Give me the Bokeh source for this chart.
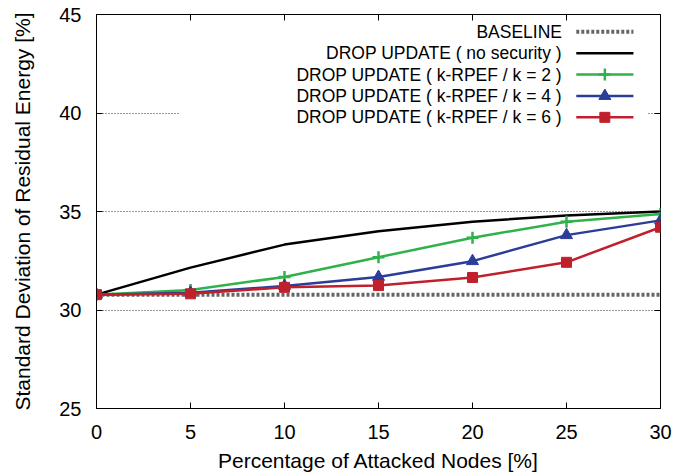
from bokeh.plotting import figure
from bokeh.models import (ColumnDataSource, Range1d, FixedTicker, LinearAxis,
                          Label, BoxAnnotation)
from bokeh.embed import file_html
from bokeh.resources import INLINE

# ---------------- data ----------------
attacked_pct = [0, 5, 10, 15, 20, 25, 30]
baseline = [30.78, 30.78, 30.78, 30.78, 30.78, 30.78, 30.78]
no_security = [30.78, 32.15, 33.32, 34.00, 34.48, 34.80, 35.00]
k2 = [30.78, 31.02, 31.68, 32.68, 33.67, 34.48, 34.87]
k4 = [30.78, 30.88, 31.22, 31.68, 32.48, 33.80, 34.55]
k6 = [30.78, 30.82, 31.15, 31.24, 31.65, 32.42, 34.20]

x_ticks = [0, 5, 10, 15, 20, 25, 30]
y_ticks = [25, 30, 35, 40, 45]
grid_ticks = [30, 35, 40]

series_labels = ["BASELINE",
                 "DROP UPDATE ( no security )",
                 "DROP UPDATE ( k-RPEF / k = 2 )",
                 "DROP UPDATE ( k-RPEF / k = 4 )",
                 "DROP UPDATE ( k-RPEF / k = 6 )"]

FONT = "Liberation Sans"
GREEN = "#2fb24a"
BLUE = "#2b3d98"
RED = "#c0202c"
GRAY = "#666666"

src = ColumnDataSource(dict(x=attacked_pct, base=baseline, nosec=no_security,
                            k2=k2, k4=k4, k6=k6))

p = figure(width=672, height=474, output_backend="svg", toolbar_location=None,
           x_range=Range1d(0, 30), y_range=Range1d(25, 45),
           min_border_left=96, min_border_right=12, min_border_top=14,
           min_border_bottom=65)
p.background_fill_color = "white"
p.border_fill_color = "white"
p.outline_line_color = "black"
p.outline_line_width = 1

# axes
for ax, ticks in ((p.xaxis[0], x_ticks), (p.yaxis[0], y_ticks)):
    ax.ticker = FixedTicker(ticks=ticks)
    ax.major_tick_in = 6
    ax.major_tick_out = 0
    ax.minor_tick_line_color = None
    ax.axis_line_color = "black"
    ax.major_tick_line_color = "black"
    ax.major_label_text_font = FONT
    ax.major_label_text_font_size = "20px"
    ax.major_label_text_color = "black"
    ax.axis_label_text_font = FONT
    ax.axis_label_text_font_size = "21px"
    ax.axis_label_text_font_style = "normal"
    ax.axis_label_text_color = "black"

p.xaxis.axis_label = "Percentage of Attacked Nodes [%]"
p.yaxis.axis_label = "Standard Deviation of Residual Energy [%]"
p.xaxis.major_label_standoff = 16
p.xaxis.axis_label_standoff = 7
p.yaxis.major_label_standoff = 15
p.yaxis.axis_label_standoff = 22

# mirrored ticks on top and right (no labels)
top_ax = LinearAxis(ticker=FixedTicker(ticks=x_ticks), major_tick_in=6, major_tick_out=0,
                    minor_tick_line_color=None, major_label_text_font_size="1px",
                    major_label_text_color=None,
                    major_label_overrides={t: "" for t in x_ticks},
                    major_label_standoff=0, axis_line_color=None)
right_ax = LinearAxis(ticker=FixedTicker(ticks=y_ticks), major_tick_in=6, major_tick_out=0,
                      minor_tick_line_color=None, major_label_text_font_size="1px",
                      major_label_text_color=None,
                      major_label_overrides={t: "" for t in y_ticks},
                      major_label_standoff=0, axis_line_color=None)
p.add_layout(top_ax, "above")
p.add_layout(right_ax, "right")

# grid
p.xgrid.grid_line_color = None
p.ygrid.ticker = FixedTicker(ticks=grid_ticks)
p.ygrid.grid_line_color = "#333333"
p.ygrid.grid_line_dash = "1 2"
p.ygrid.grid_line_width = 1

# legend background (opaque key box)
key_box = BoxAnnotation(left=4.42, right=29.31, bottom=39.28, top=44.95,
                        fill_color="white", fill_alpha=1.0, line_color=None,
                        level="underlay")
p.add_layout(key_box)

# series
p.line("x", "base", source=src, line_color=GRAY, line_width=4, line_dash="3 2")
p.line("x", "nosec", source=src, line_color="black", line_width=2.5)
p.line("x", "k2", source=src, line_color=GREEN, line_width=2.5)
p.scatter("x", "k2", source=src, marker="cross", size=12, line_color=GREEN, line_width=2.5)
p.line("x", "k4", source=src, line_color=BLUE, line_width=2.5)
p.scatter("x", "k4", source=src, marker="triangle", size=12, fill_color=BLUE, line_color=BLUE)
p.line("x", "k6", source=src, line_color=RED, line_width=2.5)
p.scatter("x", "k6", source=src, marker="square", size=10, fill_color=RED, line_color=RED)

# custom key (text right-aligned, sample on the right)
key_text_x = 24.76
key_x0, key_x1 = 25.52, 28.56
key_mid = (key_x0 + key_x1) / 2
key_y0, key_dy = 44.12, 1.085
styles = [
    dict(color=GRAY, width=4, dash="3 2", marker=None),
    dict(color="black", width=2.5, dash="solid", marker=None),
    dict(color=GREEN, width=2.5, dash="solid", marker="cross"),
    dict(color=BLUE, width=2.5, dash="solid", marker="triangle"),
    dict(color=RED, width=2.5, dash="solid", marker="square"),
]
marker_size = {"cross": 12, "triangle": 12, "square": 10}
for i, (lab, st) in enumerate(zip(series_labels, styles)):
    yy = key_y0 - i * key_dy
    p.add_layout(Label(x=key_text_x, y=yy, text=lab, text_align="right",
                       text_baseline="middle", text_font=FONT,
                       text_font_size="17.5px", text_color="black"))
    p.line([key_x0, key_x1], [yy, yy], line_color=st["color"], line_width=st["width"],
           line_dash=st["dash"])
    if st["marker"]:
        p.scatter([key_mid], [yy], marker=st["marker"], size=marker_size[st["marker"]],
                  line_color=st["color"], fill_color=st["color"],
                  line_width=2.5 if st["marker"] == "cross" else 1)

open("out.html", "w").write(file_html(p, INLINE))
